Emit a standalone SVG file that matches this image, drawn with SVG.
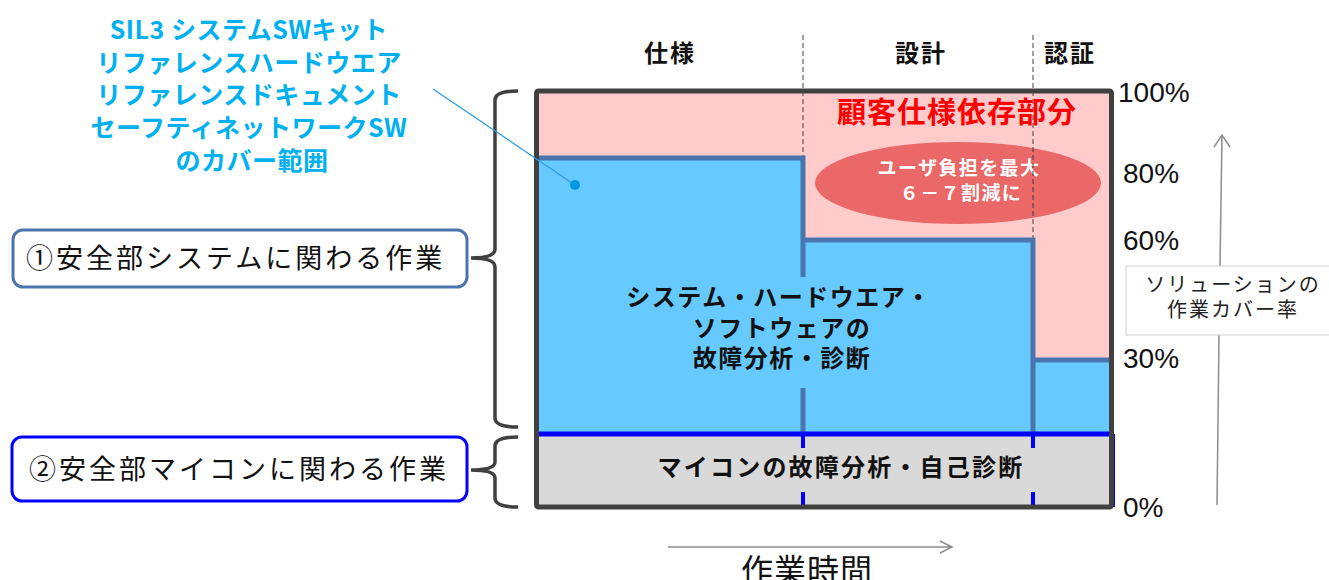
<svg xmlns="http://www.w3.org/2000/svg" width="1329" height="580" viewBox="0 0 1329 580">
<style>
.jp{font-family:"Noto Sans CJK JP","Noto Sans",sans-serif}
.b{font-weight:bold}
.pct{font-family:"Liberation Sans",Arial,sans-serif;font-size:28px;fill:#111}
.step{stroke:#4A74AC;stroke-width:5;fill:none}
.dash{stroke:#404040;stroke-width:1;stroke-dasharray:5,3;fill:none}
.brace{stroke:#404040;stroke-width:3.5;fill:none}
.garrow{stroke:#8C8C8C;stroke-width:1.5;fill:none}
</style>
<rect width="1329" height="580" fill="#FFFFFF"/>
<g id="chart">
<rect x="536" y="91" width="576" height="416" fill="#FFCBCB"/>
<polygon points="536,158 803,158 803,240 1033,240 1033,360 1112,360 1112,434 536,434" fill="#66C9FF"/>
<rect x="537" y="434" width="575" height="73" fill="#D9D9D9"/>
</g>
<g id="ellipse">
<ellipse cx="958" cy="183" rx="143" ry="41" fill="#EA6868"/>
<text class="jp b" x="959" y="175" font-size="19" letter-spacing="1.4" fill="#FFFFFF" text-anchor="middle">ユーザ負担を最大</text>
<text class="jp b" x="961" y="200" font-size="19" letter-spacing="1.4" fill="#FFFFFF" text-anchor="middle">６－７割減に</text>
</g>
<g id="connectors">
<line class="dash" x1="803" y1="35" x2="803" y2="158"/>
<line class="dash" x1="1033" y1="35" x2="1033" y2="240"/>
<path class="step" d="M536,158 L803,158 L803,277"/>
<path class="step" d="M803,388 L803,434"/>
<path class="step" d="M803,240 L1033,240 L1033,434"/>
<path class="step" d="M1033,360 L1112,360"/>
<path d="M537,434 L1112,434" stroke="#0000FF" stroke-width="5"/>
<path d="M537,435 L537,506 L1112,506 L1114,506 L1114,434" stroke="#0000FF" stroke-width="2" fill="none"/>
<path d="M803,434 L803,448 M1033,434 L1033,448 M803,492 L803,506 M1033,492 L1033,506" stroke="#0000FF" stroke-width="4"/>
<rect x="536.5" y="91" width="575" height="416" fill="none" stroke="#404040" stroke-width="5" rx="2"/>
<path class="brace" d="M518,91 Q495,91 495,100 L495,249 Q495,258 471,258 Q495,258 495,267 L495,418 Q495,427 518,427"/>
<path class="brace" d="M518,437 Q495,437 495,446 L495,462 Q495,470 471,470 Q495,470 495,478 L495,498 Q495,507 518,507"/>
<line x1="433" y1="89" x2="575" y2="185" stroke="#2E9AE6" stroke-width="1.3"/>
<circle cx="575" cy="185" r="5" fill="#0096E6"/>
<path class="garrow" d="M1217,505 L1219,335 M1220,266 L1222,135 M1214,147 L1222,135 L1230,147"/>
<path class="garrow" d="M668,547 L952,547 M940,541 L952,547 L940,553"/>
</g>
<g id="headers">
<text class="jp b" x="670" y="62" font-size="24" letter-spacing="2" fill="#111" text-anchor="middle">仕様</text>
<text class="jp b" x="921" y="62" font-size="24" letter-spacing="2" fill="#111" text-anchor="middle">設計</text>
<text class="jp b" x="1070" y="62" font-size="24" letter-spacing="2" fill="#111" text-anchor="middle">認証</text>
</g>
<g id="customer">
<text class="jp b" x="957" y="123" font-size="29" letter-spacing="1" fill="#FF0000" text-anchor="middle">顧客仕様依存部分</text>
</g>
<g id="sysblock">
<text class="jp b" x="779" y="306" font-size="24" letter-spacing="1.5" fill="#111" text-anchor="middle">システム・ハードウエア・</text>
<text class="jp b" x="782" y="337" font-size="24" letter-spacing="1.5" fill="#111" text-anchor="middle">ソフトウェアの</text>
<text class="jp b" x="782" y="367" font-size="24" letter-spacing="1.5" fill="#111" text-anchor="middle">故障分析・診断</text>
</g>
<g id="mcublock">
<text class="jp b" x="841" y="476" font-size="24" letter-spacing="2.2" fill="#111" text-anchor="middle">マイコンの故障分析・自己診断</text>
</g>
<g id="callout">
<text class="jp b" font-size="25" letter-spacing="0.5" fill="#00B0F0" text-anchor="middle">
<tspan x="252" y="39">SIL3 システムSWキット</tspan>
<tspan x="252" y="72">リファレンスハードウエア</tspan>
<tspan x="252" y="104">リファレンスドキュメント</tspan>
<tspan x="252" y="137">セーフティネットワークSW</tspan>
<tspan x="252" y="170">のカバー範囲</tspan>
</text>
</g>
<g id="box1">
<rect x="13" y="230" width="454" height="57" rx="10" fill="#FFFFFF" stroke="#4A74AC" stroke-width="3"/>
<text class="jp" x="26" y="268" font-size="27" letter-spacing="3" fill="#111">①安全部システムに関わる作業</text>
</g>
<g id="box2">
<rect x="12" y="437" width="455" height="64" rx="10" fill="#FFFFFF" stroke="#0000FF" stroke-width="3"/>
<text class="jp" x="29" y="479" font-size="27" letter-spacing="3" fill="#111">②安全部マイコンに関わる作業</text>
</g>
<g id="percent">
<text class="pct" x="1118" y="102">100%</text>
<text class="pct" x="1123" y="183">80%</text>
<text class="pct" x="1123" y="250">60%</text>
<text class="pct" x="1123" y="368">30%</text>
<text class="pct" x="1123" y="517">0%</text>
</g>
<g id="coverlabel">
<rect x="1126" y="266" width="210" height="69" fill="#FFFFFF" stroke="#D0D0D0" stroke-width="1"/>
<text class="jp" x="1233" y="292" font-size="20" letter-spacing="2" fill="#222" text-anchor="middle">ソリューションの</text>
<text class="jp" x="1233" y="317" font-size="20" letter-spacing="2" fill="#222" text-anchor="middle">作業カバー率</text>
</g>
<g id="timelabel">
<text class="jp" x="807" y="582" font-size="32" letter-spacing="1" fill="#111" text-anchor="middle">作業時間</text>
</g>
</svg>
